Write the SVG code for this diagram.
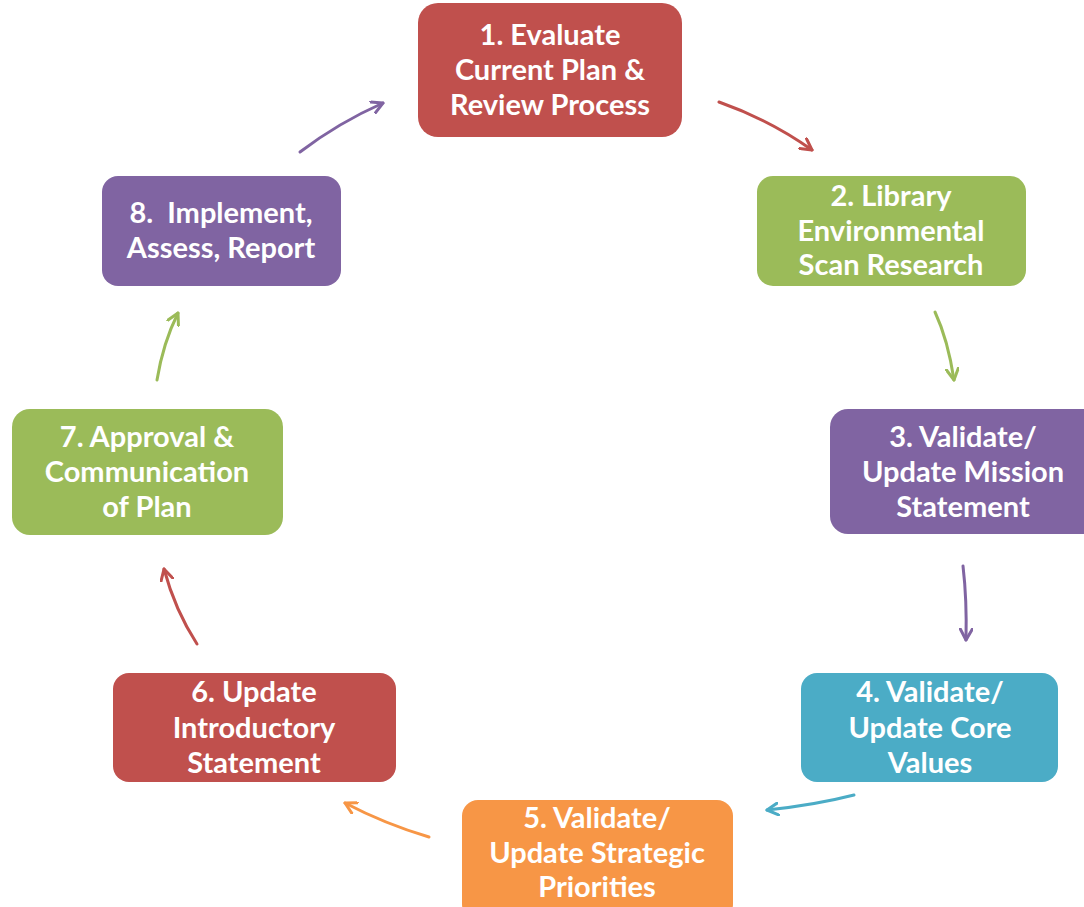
<svg xmlns="http://www.w3.org/2000/svg" width="1084" height="907" viewBox="0 0 1084 907">
<style>
.t{font-family:Lato,"Open Sans","Liberation Sans",sans-serif;font-weight:bold;font-size:29px;fill:#fff;text-anchor:middle}
.c{fill:none;stroke-width:3;stroke-linecap:round}
</style>
<defs>
<marker id="mr" viewBox="0 0 14 14" refX="12" refY="7" markerWidth="14" markerHeight="14" markerUnits="userSpaceOnUse" orient="auto"><path d="M1,1 L12,7 L1,13" fill="none" stroke="#C0504D" stroke-width="3" stroke-linecap="round" stroke-linejoin="round"/></marker>
<marker id="mg" viewBox="0 0 14 14" refX="12" refY="7" markerWidth="14" markerHeight="14" markerUnits="userSpaceOnUse" orient="auto"><path d="M1,1 L12,7 L1,13" fill="none" stroke="#9BBB59" stroke-width="3" stroke-linecap="round" stroke-linejoin="round"/></marker>
<marker id="mp" viewBox="0 0 14 14" refX="12" refY="7" markerWidth="14" markerHeight="14" markerUnits="userSpaceOnUse" orient="auto"><path d="M1,1 L12,7 L1,13" fill="none" stroke="#8064A2" stroke-width="3" stroke-linecap="round" stroke-linejoin="round"/></marker>
<marker id="mb" viewBox="0 0 14 14" refX="12" refY="7" markerWidth="14" markerHeight="14" markerUnits="userSpaceOnUse" orient="auto"><path d="M1,1 L12,7 L1,13" fill="none" stroke="#4BACC6" stroke-width="3" stroke-linecap="round" stroke-linejoin="round"/></marker>
<marker id="mo" viewBox="0 0 14 14" refX="12" refY="7" markerWidth="14" markerHeight="14" markerUnits="userSpaceOnUse" orient="auto"><path d="M1,1 L12,7 L1,13" fill="none" stroke="#F79646" stroke-width="3" stroke-linecap="round" stroke-linejoin="round"/></marker>
</defs>
<rect width="1084" height="907" fill="#fff"/>
<g id="connectors">
<path class="c" stroke="#C0504D" marker-end="url(#mr)" d="M719,102 Q770,120 812,150"/>
<path class="c" stroke="#9BBB59" marker-end="url(#mg)" d="M935,312 Q948,340 954,380"/>
<path class="c" stroke="#8064A2" marker-end="url(#mp)" d="M963,566 Q967,600 966,640"/>
<path class="c" stroke="#4BACC6" marker-end="url(#mb)" d="M854,795 Q815,805 767,810"/>
<path class="c" stroke="#F79646" marker-end="url(#mo)" d="M429,837 Q385,824 345,803"/>
<path class="c" stroke="#C0504D" marker-end="url(#mr)" d="M197,644 Q175,610 164,569"/>
<path class="c" stroke="#9BBB59" marker-end="url(#mg)" d="M157,380 Q163,343 178,313"/>
<path class="c" stroke="#8064A2" marker-end="url(#mp)" d="M300,152 Q338,123 383,103"/>
</g>
<g id="n1"><rect x="418" y="3" width="264" height="134" rx="20" fill="#C0504D"/>
<text class="t"><tspan x="550" y="45">1. Evaluate</tspan><tspan x="550" y="80">Current Plan &amp;</tspan><tspan x="550" y="115">Review Process</tspan></text></g>
<g id="n2"><rect x="757" y="176" width="269" height="110" rx="16" fill="#9BBB59"/>
<text class="t"><tspan x="891" y="206">2. Library</tspan><tspan x="891" y="241">Environmental</tspan><tspan x="891" y="275">Scan Research</tspan></text></g>
<g id="n3"><rect x="830" y="409" width="270" height="125" rx="18" fill="#8064A2"/>
<text class="t"><tspan x="963" y="447">3. Validate/</tspan><tspan x="963" y="482">Update Mission</tspan><tspan x="963" y="517">Statement</tspan></text></g>
<g id="n4"><rect x="801" y="673" width="257" height="109" rx="16" fill="#4BACC6"/>
<text class="t"><tspan x="930" y="702">4. Validate/</tspan><tspan x="930" y="738">Update Core</tspan><tspan x="930" y="773">Values</tspan></text></g>
<g id="n5"><rect x="462" y="800" width="271" height="120" rx="16" fill="#F79646"/>
<text class="t"><tspan x="597" y="828">5. Validate/</tspan><tspan x="597" y="863">Update Strategic</tspan><tspan x="597" y="897">Priorities</tspan></text></g>
<g id="n6"><rect x="113" y="673" width="283" height="109" rx="16" fill="#C0504D"/>
<text class="t"><tspan x="254" y="702">6. Update</tspan><tspan x="254" y="738">Introductory</tspan><tspan x="254" y="773">Statement</tspan></text></g>
<g id="n7"><rect x="12" y="409" width="271" height="126" rx="18" fill="#9BBB59"/>
<text class="t"><tspan x="147" y="447">7. Approval &amp;</tspan><tspan x="147" y="482">Communication</tspan><tspan x="147" y="517">of Plan</tspan></text></g>
<g id="n8"><rect x="102" y="176" width="239" height="110" rx="16" fill="#8064A2"/>
<text class="t"><tspan x="221" y="223" xml:space="preserve">8.  Implement,</tspan><tspan x="221" y="258">Assess, Report</tspan></text></g>
</svg>
